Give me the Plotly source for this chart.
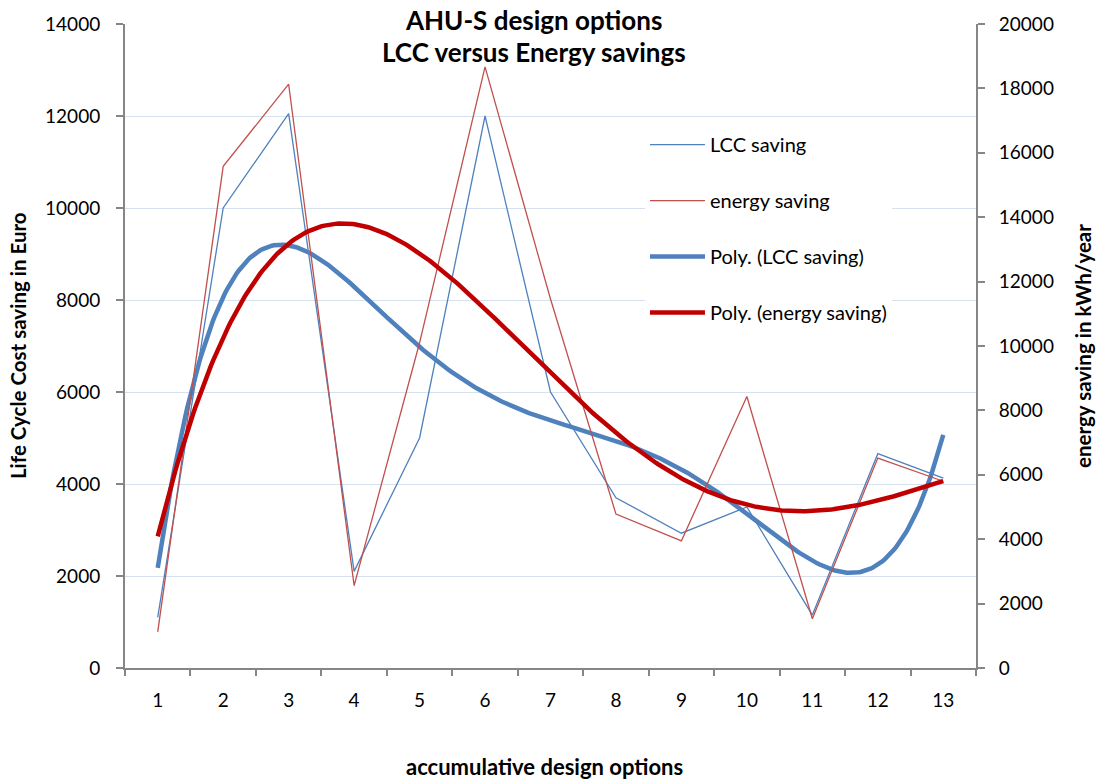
import numpy as np
import plotly.graph_objects as go

# Design option index (accumulative) and savings per option
options = list(range(1, 14))
lcc_saving = [1100, 10000, 12050, 2100, 5000, 12000, 6000, 3700, 2930, 3500, 1150, 4660, 4130]        # Euro
energy_saving = [1120, 15580, 18130, 2560, 10100, 18670, 11460, 4780, 3950, 8430, 1530, 6520, 5800]  # kWh/year

# Polynomial trendlines (least-squares fits of the series above)
LCC_ORDER = 5
ENERGY_ORDER = 4
x_fit = np.linspace(options[0], options[-1], 400)
lcc_fit = np.polyval(np.polyfit(options, lcc_saving, LCC_ORDER), x_fit)
energy_fit = np.polyval(np.polyfit(options, energy_saving, ENERGY_ORDER), x_fit)

FONT = "Lato, 'Open Sans', sans-serif"
AXIS_GREY = "#868686"
GRID = "#D6E1F0"

fig = go.Figure()
fig.add_trace(go.Scatter(x=options, y=lcc_saving, name="LCC saving", mode="lines",
                         line=dict(color="#4F81BD", width=1.3), legendgroup="a", yaxis="y"))
fig.add_trace(go.Scatter(x=options, y=energy_saving, name="energy saving", mode="lines",
                         line=dict(color="#C0504D", width=1.3), legendgroup="b", yaxis="y2"))
fig.add_trace(go.Scatter(x=x_fit, y=lcc_fit, name="Poly. (LCC saving)", mode="lines",
                         line=dict(color="#4F81BD", width=4.5), legendgroup="c", yaxis="y"))
fig.add_trace(go.Scatter(x=x_fit, y=energy_fit, name="Poly. (energy saving)", mode="lines",
                         line=dict(color="#C00000", width=4.5), legendgroup="d", yaxis="y2"))

fig.update_layout(
    width=1098, height=780,
    margin=dict(l=125, r=122, t=20, b=112),
    paper_bgcolor="white", plot_bgcolor="white",
    font=dict(family=FONT, size=19, color="black"),
    showlegend=True,
    legend=dict(x=0.611, y=0.843, xanchor="left", yanchor="top", bgcolor="white",
                itemwidth=55, font=dict(size=20, color="black"),
                tracegroupgap=27, traceorder="grouped"),
    xaxis=dict(range=[0.5, 13.5], tickmode="array", tickvals=options,
               ticks="outside", ticklen=14, tickcolor="rgba(0,0,0,0)",
               minor=dict(tickmode="array", tickvals=[v + 0.5 for v in range(0, 14)],
                          ticks="outside", ticklen=6, tickwidth=1.5, tickcolor=AXIS_GREY, showgrid=False),
               showline=True, linecolor=AXIS_GREY, linewidth=2, showgrid=False, zeroline=False),
    yaxis=dict(range=[0, 14000], tickmode="linear", tick0=0, dtick=2000, tickformat="d",
               ticks="outside", ticklen=7, tickwidth=1.5, tickcolor=AXIS_GREY, ticklabelstandoff=12,
               showline=True, linecolor=AXIS_GREY, linewidth=2,
               showgrid=True, gridcolor=GRID, gridwidth=1, zeroline=False),
    yaxis2=dict(range=[0, 20000], tickmode="linear", tick0=0, dtick=2000, tickformat="d",
                overlaying="y", side="right", anchor="x",
                ticks="outside", ticklen=7, tickwidth=1.5, tickcolor=AXIS_GREY, ticklabelstandoff=10,
                showline=True, linecolor=AXIS_GREY, linewidth=2, showgrid=False, zeroline=False),
)

annotations = [
    dict(text="<b>AHU-S design options</b>", x=0.4806, y=1.0055, font=dict(size=26)),
    dict(text="<b>LCC versus Energy savings</b>", x=0.4806, y=0.957, font=dict(size=26)),
    dict(text="<b>accumulative design options</b>", x=0.4924, y=-0.1528, font=dict(size=22)),
    dict(text="<b>Life Cycle Cost saving in Euro</b>", x=-0.1257, y=0.5, textangle=-90, font=dict(size=20.5)),
    dict(text="<b>energy saving in kWh/year</b>", x=1.1257, y=0.5, textangle=-90, font=dict(size=20.5)),
]
for a in annotations:
    fig.add_annotation(xref="paper", yref="paper", xanchor="center", yanchor="middle",
                       showarrow=False, **a)

fig.write_html("out.html")
